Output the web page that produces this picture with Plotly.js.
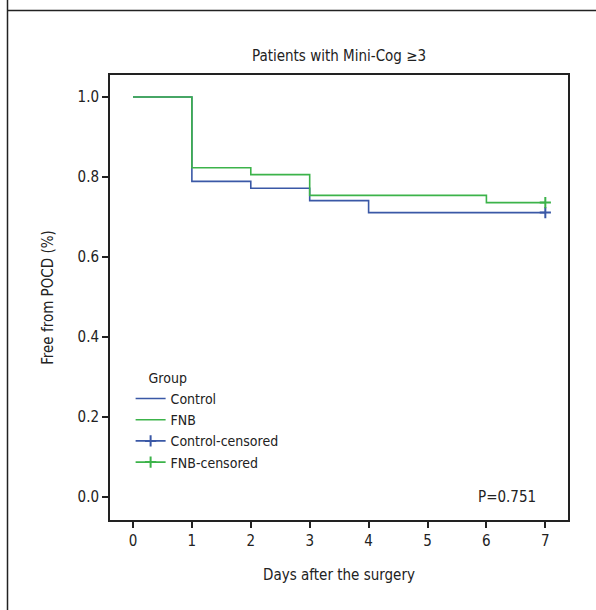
<!DOCTYPE html>
<html>
<head>
<meta charset="utf-8">
<script src="https://cdn.plot.ly/plotly-3.0.1.min.js"></script>
<style>
html,body{margin:0;padding:0;background:#fff;}
#chart{width:596px;height:610px;}
</style>
</head>
<body>
<div id="chart"></div>
<script>
// Kaplan-Meier step data
const controlDays = [0, 1, 2, 3, 4, 7];
const controlSurv = [1.0, 0.789, 0.772, 0.741, 0.711, 0.711];
const fnbDays = [0, 1, 2, 3, 6, 7];
const fnbSurv = [1.0, 0.823, 0.806, 0.754, 0.736, 0.736];
const controlCensDays = [7];
const controlCensSurv = [0.711];
const fnbCensDays = [7];
const fnbCensSurv = [0.736];
const xTicks = [0, 1, 2, 3, 4, 5, 6, 7];
const yTicks = [0.0, 0.2, 0.4, 0.6, 0.8, 1.0];
const yTickLabels = ["0.0", "0.2", "0.4", "0.6", "0.8", "1.0"];
const pText = "P=0.751";

const blue = "#3a58a6";
const green = "#3cb34a";
const FONT = "'DejaVu Sans Condensed', 'Liberation Sans', Arial, sans-serif";

const traces = [
  {x: controlDays, y: controlSurv, name: "Control", mode: "lines",
   line: {color: blue, width: 1.6, shape: "hv"}},
  {x: fnbDays, y: fnbSurv, name: "FNB", mode: "lines",
   line: {color: green, width: 1.6, shape: "hv"}},
  {x: controlCensDays, y: controlCensSurv, name: "Control-censored", mode: "lines+markers",
   line: {color: blue, width: 1.6},
   marker: {symbol: "cross-thin", size: 8, color: blue, line: {color: blue, width: 2}}},
  {x: fnbCensDays, y: fnbCensSurv, name: "FNB-censored", mode: "lines+markers",
   line: {color: green, width: 1.6},
   marker: {symbol: "cross-thin", size: 8, color: green, line: {color: green, width: 2}}}
];

const layout = {
  width: 596, height: 610,
  margin: {l: 110, r: 28, t: 75, b: 90},
  paper_bgcolor: "#fff", plot_bgcolor: "#fff",
  font: {family: FONT, size: 15, color: "#222"},
  showlegend: true,
  title: {text: "Patients with Mini-Cog ≥3", font: {family: FONT, size: 15, color: "#222"},
          x: 0.5, xanchor: "center", y: 1 - 56/610, yanchor: "middle", xref: "paper"},
  xaxis: {
    range: [-0.39, 7.385], tickvals: xTicks, ticktext: xTicks.map(String),
    ticks: "outside", ticklen: 6, tickwidth: 2, tickcolor: "#222",
    showline: true, linecolor: "#222", linewidth: 2, mirror: true,
    showgrid: false, zeroline: false,
    tickfont: {family: FONT, size: 15, color: "#222"},
    title: {text: "Days after the surgery", font: {family: FONT, size: 15, color: "#222"}, standoff: 20}
  },
  yaxis: {
    range: [-0.0575, 1.055], tickvals: yTicks, ticktext: yTickLabels,
    ticks: "outside", ticklen: 6, tickwidth: 2, tickcolor: "#222",
    showline: true, linecolor: "#222", linewidth: 2, mirror: true,
    showgrid: false, zeroline: false,
    tickfont: {family: FONT, size: 15, color: "#222"},
    title: {text: "Free from POCD (%)", font: {family: FONT, size: 15, color: "#222"}, standoff: 20}
  },
  legend: {
    x: 0.045, y: 0.349, xanchor: "left", yanchor: "top",
    bgcolor: "rgba(0,0,0,0)", borderwidth: 0,
    font: {family: FONT, size: 14, color: "#222"},
    title: {text: "    Group", font: {family: FONT, size: 14, color: "#222"}},
    tracegroupgap: 0, itemwidth: 30
  },
  annotations: [
    {text: pText, xref: "paper", yref: "y", x: 0.935, y: 0.0, xanchor: "right", yanchor: "middle",
     showarrow: false, font: {family: FONT, size: 15, color: "#222"}}
  ],
  shapes: [
    {type: "line", xref: "paper", yref: "paper", x0: (7.5-110)/458, x1: (7.5-110)/458,
     y0: 520/445, y1: -100/445, line: {color: "#222", width: 1.5}},
    {type: "line", xref: "paper", yref: "paper", x0: (7.5-110)/458, x1: (620-110)/458,
     y0: (520-10.5)/445, y1: (520-10.5)/445, line: {color: "#222", width: 1.5}}
  ]
};

Plotly.newPlot("chart", traces, layout, {displayModeBar: false, staticPlot: true});
</script>
</body>
</html>
